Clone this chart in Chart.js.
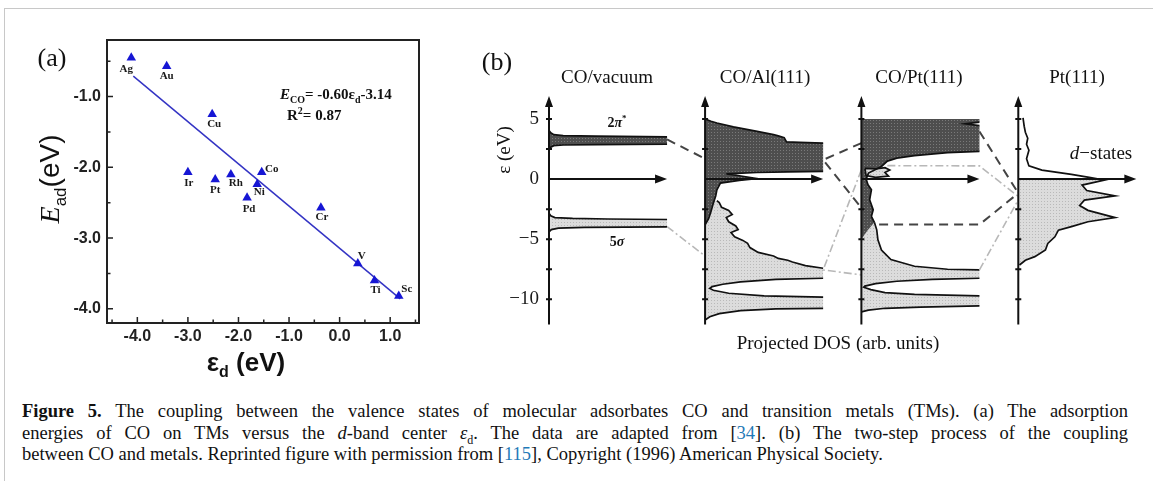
<!DOCTYPE html>
<html>
<head>
<meta charset="utf-8">
<script src="https://cdn.jsdelivr.net/npm/chart.js@4.4.1/dist/chart.umd.min.js"></script>
<style>
  body { margin: 0; background: #fff; }
  #page { position: relative; width: 1153px; height: 488px; overflow: hidden; font-family: "Liberation Serif", serif; color: #111; }
  #frame { position: absolute; left: 4px; top: 8px; width: 1160px; height: 472px; border-left: 1px solid #c8c8c8; border-top: 1px solid #c8c8c8; }
  canvas { position: absolute; }
  .t { position: absolute; transform: translate(-50%, -50%); white-space: nowrap; line-height: 1; }
  .rot { transform: translate(-50%, -50%) rotate(-90deg); }
  sub, sup { line-height: 0; }
  #cap { position: absolute; left: 22px; top: 401px; width: 1106px; font-size: 18.5px; line-height: 21.5px; color: #111; }
  #cap .j { text-align: justify; text-align-last: justify; white-space: nowrap; }
  #cap .l { white-space: nowrap; }
  .ref { color: #1f7ab8; }
</style>
</head>
<body>
<div id="page">
  <div id="frame"></div>
  <canvas id="chartA" width="460" height="390" style="left:0;top:0"></canvas>
  <canvas id="chartB" width="683" height="360" style="left:470px;top:20px"></canvas>

  <div class="t" style="left:52px;top:58px;font-size:26px">(a)</div>
  <div class="t rot" style="left:50px;top:179px;font-size:28px"><i>E</i><sub style="font-family:'Liberation Sans';font-size:17px">ad</sub><span style="font-family:'Liberation Sans'">(eV)</span></div>
  <div class="t" style="left:246px;top:362px;font-size:26px;font-weight:bold;font-family:'Liberation Sans'">ε<sub style="font-size:16px">d</sub> (eV)</div>
  <div class="t" style="left:280px;top:94px;transform:translate(0,-50%);font-size:15px;font-weight:bold"><i>E</i><sub style="font-size:10px">CO</sub>= -0.60ε<sub style="font-size:10px">d</sub>-3.14</div>
  <div class="t" style="left:287px;top:115px;transform:translate(0,-50%);font-size:15px;font-weight:bold">R<sup style="font-size:10px">2</sup>= 0.87</div>

  <div class="t" style="left:497px;top:62px;font-size:26px">(b)</div>
  <div class="t" style="left:607px;top:76px;font-size:19px">CO/vacuum</div>
  <div class="t" style="left:765px;top:76px;font-size:19px">CO/Al(111)</div>
  <div class="t" style="left:919px;top:76px;font-size:19px">CO/Pt(111)</div>
  <div class="t" style="left:1077px;top:76px;font-size:19px">Pt(111)</div>
  <div class="t rot" style="left:503px;top:150px;font-size:19px">ε (eV)</div>
  <div class="t" style="left:617px;top:123px;font-size:14px;font-weight:bold">2<i>π</i><sup style="font-size:9px">*</sup></div>
  <div class="t" style="left:617px;top:242px;font-size:14px;font-weight:bold">5<i>σ</i></div>
  <div class="t" style="left:1101px;top:152px;font-size:19px"><i>d</i>−states</div>
  <div class="t" style="left:838px;top:342px;font-size:19px">Projected DOS (arb. units)</div>

  <div id="cap">
    <div class="j"><b>Figure 5.</b> The coupling between the valence states of molecular adsorbates CO and transition metals (TMs). (a) The adsorption</div>
    <div class="j">energies of CO on TMs versus the <i>d</i>-band center <i>ε</i><sub style="font-size:12px">d</sub>. The data are adapted from [<span class="ref">34</span>]. (b) The two-step process of the coupling</div>
    <div class="l">between CO and metals. Reprinted figure with permission from [<span class="ref">115</span>], Copyright (1996) American Physical Society.</div>
  </div>
</div>

<script>
// ---- panel (a): adsorption energy vs d-band centre ----
const metals = ["Ag", "Au", "Cu", "Ir", "Pt", "Rh", "Co", "Ni", "Pd", "Cr", "V", "Ti", "Sc"];
const epsD = [-4.12, -3.42, -2.52, -3.0, -2.46, -2.15, -1.54, -1.63, -1.83, -0.37, 0.36, 0.69, 1.17];
const eAd = [-0.45, -0.57, -1.25, -2.07, -2.17, -2.1, -2.07, -2.24, -2.43, -2.57, -3.36, -3.6, -3.82];
const fitEps = [-4.08, 1.2];
const fitE = [-0.71, -3.86];
const xTicksA = [-4, -3, -2, -1, 0, 1];
const yTicksA = [-4, -3, -2, -1];

// ---- panel (b): projected DOS, points are [DOS (arb. units), energy (eV)] ----
const vacPiTop = [[0, 4.05], [0.015, 3.85], [0.04, 3.7], [0.12, 3.62], [0.4, 3.57], [1.0, 3.52]];
const vacPiBot = [[0, 2.45], [0.015, 2.65], [0.04, 2.78], [0.12, 2.84], [0.4, 2.87], [1.0, 2.9]];
const vacSigTop = [[0, -2.85], [0.015, -3.05], [0.05, -3.2], [0.2, -3.27], [0.5, -3.32], [1.0, -3.36]];
const vacSigBot = [[0, -4.4], [0.02, -4.2], [0.08, -4.08], [0.3, -4.02], [1.0, -3.97]];

const alDarkTop = [[0, 5.0], [0.05, 4.82], [0.1, 4.67], [0.24, 4.35], [0.43, 4.0], [0.58, 3.7], [0.62, 3.6], [0.67, 3.45], [0.69, 3.1], [0.8, 3.05], [1.0, 3.0]];
const alDarkBot = [[1.0, 0.64], [0.7, 0.6], [0.44, 0.55], [0.18, 0.44], [0.29, 0.28], [0.44, 0.04], [0.29, -0.11], [0.13, -0.33], [0.1, -0.9], [0.09, -1.4], [0.07, -2.0], [0.05, -2.7], [0.03, -3.3], [0, -3.8]];
const alLightTop = [[0.1, -1.8], [0.12, -1.95], [0.14, -2.35], [0.2, -2.6], [0.23, -2.95], [0.18, -3.2], [0.2, -3.55], [0.26, -3.9], [0.28, -4.2], [0.22, -4.45], [0.25, -4.8], [0.32, -5.1], [0.36, -5.35], [0.38, -5.7], [0.45, -6.1], [0.58, -6.4], [0.62, -6.6], [0.7, -6.75], [0.74, -6.9], [0.85, -7.2], [1.0, -7.42]];
const alLightMid = [[1.0, -8.25], [0.6, -8.35], [0.3, -8.55], [0.15, -8.75], [0.06, -8.95], [0.04, -9.1], [0.07, -9.25], [0.2, -9.5], [0.5, -9.72], [1.0, -9.83]];
const alLightBot = [[1.0, -10.75], [0.6, -10.8], [0.3, -10.95], [0.12, -11.2], [0.04, -11.45], [0, -11.72]];

const ptDarkTop = [[0, 5.0], [1.0, 5.0], [1.0, 4.75], [0.88, 4.6], [1.0, 4.45]];
const ptDarkEdge = [[1.0, 2.3], [0.73, 2.2], [0.45, 1.95], [0.3, 1.75], [0.22, 1.5], [0.17, 1.05], [0.06, 0.5], [0.04, 0], [0.056, -0.47], [0.085, -0.89], [0.07, -1.72], [0.1, -2.56], [0.085, -3.1], [0.11, -3.6]];
const ptDarkTaper = [[0.05, -4.3], [0, -5.0]];
const ptBlob = [[0.03, 0.9], [0.12, 0.85], [0.2, 0.95], [0.24, 0.75], [0.2, 0.55], [0.23, 0.25], [0.12, 0.15], [0.04, 0.3]];
const ptLightTop = [[0.11, -3.6], [0.13, -4.22], [0.14, -5.05], [0.17, -5.9], [0.25, -6.7], [0.45, -7.25], [0.73, -7.5], [1.0, -7.56]];
const ptLightMid = [[1.0, -8.25], [0.6, -8.35], [0.3, -8.5], [0.12, -8.7], [0.03, -8.9], [0.02, -9.0], [0.08, -9.2], [0.2, -9.45], [0.45, -9.6], [1.0, -9.72]];
const ptLightBot = [[1.0, -10.55], [0.5, -10.65], [0.2, -10.75], [0.06, -10.9], [0, -11.05]];

const pt111 = [[0.04, 5.1], [0.05, 4.4], [0.06, 3.9], [0.08, 3.4], [0.07, 2.9], [0.09, 2.4], [0.07, 1.7], [0.09, 1.1], [0.2, 0.75], [0.45, 0.4], [0.6, 0.15], [0.73, -0.08], [0.54, -0.5], [0.58, -0.95], [0.82, -1.4], [0.56, -1.75], [0.52, -2.2], [0.59, -2.6], [0.82, -3.2], [0.59, -3.55], [0.45, -3.95], [0.34, -4.25], [0.31, -4.8], [0.25, -5.35], [0.23, -5.9], [0.14, -6.45], [0.06, -6.75], [0.01, -7.15]];

// level links between panels: [panel, DOS, energy]
const darkLinks = [
  [[0, 1.0, 3.3], [1, 0, 1.7]],
  [[2, 0, 3.0], [1, 1.0, 1.6], [2, 0, -2.4]],
  [[2, 0.15, -3.78], [2, 1.0, -3.78], [3, 0, -1.17]],
  [[2, 1.0, 3.97], [3, 0, -1.17]]
];
const lightLinks = [
  [[0, 1.0, -3.95], [1, 0, -6.4]],
  [[2, 0, 0.78], [1, 1.0, -7.56], [2, 0, -7.97]],
  [[2, 0.22, 1.12], [2, 1.0, 1.1], [3, 0, -1.45]],
  [[2, 1.0, -7.56], [3, 0, -1.73]]
];
const yTicksB = [-10, -5, 0, 5];
const minorTicksB = [-10, -7.5, -5, -2.5, 2.5, 5];

// ---------- panel (a) ----------
const labelOffset = {
  Ag: [-5, 11], Au: [0, 10], Cu: [2, 10], Ir: [1, 11], Pt: [0, 11], Rh: [5, 9], Co: [10, -3],
  Ni: [2, 8], Pd: [2, 11], Cr: [1, 9], V: [4, -7], Ti: [1, 10], Sc: [8, -7]
};

const frameA = {
  id: "frameA",
  afterDatasetsDraw(chart) {
    const { ctx, chartArea: a, scales: { x, y } } = chart;
    ctx.save();
    ctx.fillStyle = "#1a1a1a";
    ctx.font = "bold 11px 'Liberation Serif'";
    ctx.textAlign = "center";
    ctx.textBaseline = "middle";
    chart.getDatasetMeta(0).data.forEach((p, i) => {
      const o = labelOffset[metals[i]];
      ctx.fillText(metals[i], p.x + o[0], p.y + o[1]);
    });
    ctx.strokeStyle = "#222";
    ctx.lineWidth = 2;
    ctx.strokeRect(a.left, a.top, a.right - a.left, a.bottom - a.top);
    ctx.lineWidth = 1.5;
    ctx.beginPath();
    for (let v = -4.5; v <= 1.5; v += 0.5) {
      const px = x.getPixelForValue(v);
      const len = Number.isInteger(v) ? 6 : 3.5;
      ctx.moveTo(px, a.bottom);
      ctx.lineTo(px, a.bottom - len);
    }
    for (let v = -4; v <= -0.5; v += 0.5) {
      const py = y.getPixelForValue(v);
      const len = Number.isInteger(v) ? 6 : 3.5;
      ctx.moveTo(a.left, py);
      ctx.lineTo(a.left + len, py);
    }
    ctx.stroke();
    ctx.restore();
  }
};

new Chart(document.getElementById("chartA"), {
  type: "scatter",
  data: {
    datasets: [
      {
        data: epsD.map((v, i) => ({ x: v, y: eAd[i] })),
        pointStyle: "triangle",
        pointRadius: 5.5,
        backgroundColor: "#1616d4",
        borderColor: "#1616d4",
        borderWidth: 0
      },
      {
        data: fitEps.map((v, i) => ({ x: v, y: fitE[i] })),
        showLine: true,
        pointRadius: 0,
        borderColor: "#3434c4",
        borderWidth: 1.5
      }
    ]
  },
  options: {
    responsive: false,
    animation: false,
    events: [],
    layout: { padding: { left: 0, top: 40, right: 41, bottom: 0 } },
    plugins: { legend: { display: false }, tooltip: { enabled: false } },
    scales: {
      x: {
        min: -4.6,
        max: 1.57,
        grid: { display: false, drawTicks: false },
        border: { display: false },
        afterBuildTicks: (s) => { s.ticks = xTicksA.map((v) => ({ value: v })); },
        afterFit: (s) => { s.height = 67; },
        ticks: {
          padding: 4,
          color: "#222",
          font: { family: "Liberation Sans", size: 16, weight: "bold" },
          callback: (v) => Number(v).toFixed(1)
        }
      },
      y: {
        min: -4.2,
        max: -0.2,
        grid: { display: false, drawTicks: false },
        border: { display: false },
        afterBuildTicks: (s) => { s.ticks = yTicksA.map((v) => ({ value: v })); },
        afterFit: (s) => { s.width = 107; },
        ticks: {
          padding: 6,
          color: "#222",
          font: { family: "Liberation Sans", size: 16, weight: "bold" },
          callback: (v) => Number(v).toFixed(1)
        }
      }
    }
  },
  plugins: [frameA]
});

// ---------- panel (b) ----------
const panelX = [0, 1.322, 2.646, 3.975];

function makePattern(base, dot) {
  const c = document.createElement("canvas");
  c.width = 3;
  c.height = 3;
  const g = c.getContext("2d");
  g.fillStyle = base;
  g.fillRect(0, 0, 3, 3);
  g.fillStyle = dot;
  g.fillRect(1, 1, 1, 1);
  return g.createPattern(c, "repeat");
}
const darkFill = makePattern("#4e4e4e", "#7a7a7a");
const lightFill = makePattern("#dcdcdc", "#b9b9b9");

const toXY = (panel, pts) => pts.map(([d, e]) => ({ x: panelX[panel] + d, y: e }));
const fillSet = (panel, pts, bg, order) => ({
  data: toXY(panel, pts), backgroundColor: bg, fill: "shape", borderWidth: 0,
  pointRadius: 0, showLine: true, order
});
const lineSet = (panel, pts) => ({
  data: toXY(panel, pts), borderColor: "#111", borderWidth: 1.7, fill: false,
  pointRadius: 0, showLine: true, order: 2
});
const linkSet = (pts, color, width, dash) => ({
  data: pts.map(([p, d, e]) => ({ x: panelX[p] + d, y: e })),
  borderColor: color, borderWidth: width, borderDash: dash, fill: false,
  pointRadius: 0, showLine: true, order: 1
});

function belowZero(pts) {
  const out = [];
  for (let i = 0; i < pts.length; i++) {
    const [d, e] = pts[i];
    if (e < 0) {
      if (!out.length && i > 0) {
        const [d0, e0] = pts[i - 1];
        const t = e0 / (e0 - e);
        out.push([0, 0], [d0 + (d - d0) * t, 0]);
      }
      out.push([d, e]);
    }
  }
  out.push([0, out[out.length - 1][1]]);
  return out;
}

const datasetsB = [
  fillSet(0, [...vacPiTop, ...vacPiBot.slice().reverse()], darkFill, 4),
  fillSet(0, [...vacSigTop, ...vacSigBot.slice().reverse()], lightFill, 4),
  fillSet(1, [[0, alLightTop[0][1]], ...alLightTop, ...alLightMid, ...alLightBot], lightFill, 5),
  fillSet(1, [...alDarkTop, ...alDarkBot], darkFill, 4),
  fillSet(2, [[0, ptLightTop[0][1]], ...ptLightTop, ...ptLightMid, ...ptLightBot], lightFill, 5),
  fillSet(2, [...ptDarkTop, ...ptDarkEdge, ...ptDarkTaper], darkFill, 4),
  fillSet(2, ptBlob, lightFill, 3),
  fillSet(3, belowZero(pt111), lightFill, 5),
  lineSet(0, vacPiTop), lineSet(0, vacPiBot), lineSet(0, vacSigTop), lineSet(0, vacSigBot),
  lineSet(1, alDarkTop), lineSet(1, alDarkBot), lineSet(1, alLightTop), lineSet(1, alLightMid), lineSet(1, alLightBot),
  lineSet(2, ptDarkTop.slice(2)), lineSet(2, ptDarkEdge), lineSet(2, ptLightTop), lineSet(2, ptLightMid),
  lineSet(2, ptLightBot), lineSet(2, [...ptBlob, ptBlob[0]]),
  lineSet(3, pt111),
  ...darkLinks.map((l) => linkSet(l, "#444", 2, [9, 6])),
  ...lightLinks.map((l) => linkSet(l, "#b8b8b8", 1.6, [8, 3, 2, 3]))
];

const axesB = {
  id: "axesB",
  afterDatasetsDraw(chart) {
    const { ctx, scales: { x, y } } = chart;
    const top = y.getPixelForValue(y.max) + 1;
    const bot = y.getPixelForValue(y.min);
    const y0 = y.getPixelForValue(0);
    ctx.save();
    ctx.strokeStyle = "#111";
    ctx.fillStyle = "#111";
    ctx.lineWidth = 2;
    panelX.forEach((off) => {
      const px = x.getPixelForValue(off);
      const pr = x.getPixelForValue(off + 1.0);
      ctx.beginPath();
      ctx.moveTo(px, bot);
      ctx.lineTo(px, top + 8);
      ctx.moveTo(px, y0);
      ctx.lineTo(pr - 8, y0);
      minorTicksB.forEach((v) => {
        const py = y.getPixelForValue(v);
        ctx.moveTo(px - 3, py);
        ctx.lineTo(px + 3, py);
      });
      ctx.stroke();
      ctx.beginPath();
      ctx.moveTo(px, top);
      ctx.lineTo(px - 4, top + 11);
      ctx.lineTo(px + 4, top + 11);
      ctx.closePath();
      ctx.moveTo(pr, y0);
      ctx.lineTo(pr - 12, y0 - 4.5);
      ctx.lineTo(pr - 12, y0 + 4.5);
      ctx.closePath();
      ctx.fill();
    });
    ctx.restore();
  }
};

new Chart(document.getElementById("chartB"), {
  type: "scatter",
  data: { datasets: datasetsB },
  options: {
    responsive: false,
    animation: false,
    events: [],
    layout: { padding: { left: 0, top: 75, right: 13.7, bottom: 55.5 } },
    plugins: { legend: { display: false }, tooltip: { enabled: false } },
    scales: {
      x: { display: false, min: 0, max: 5.0 },
      y: {
        min: -12.1,
        max: 7.0,
        grid: { display: false, drawTicks: false },
        border: { display: false },
        afterBuildTicks: (s) => { s.ticks = yTicksB.map((v) => ({ value: v })); },
        afterFit: (s) => { s.width = 79; },
        ticks: {
          padding: 10,
          color: "#1a1a1a",
          font: { family: "Liberation Serif", size: 19 },
          callback: (v) => String(v).replace("-", "−")
        }
      }
    }
  },
  plugins: [axesB]
});
</script>
</body>
</html>
